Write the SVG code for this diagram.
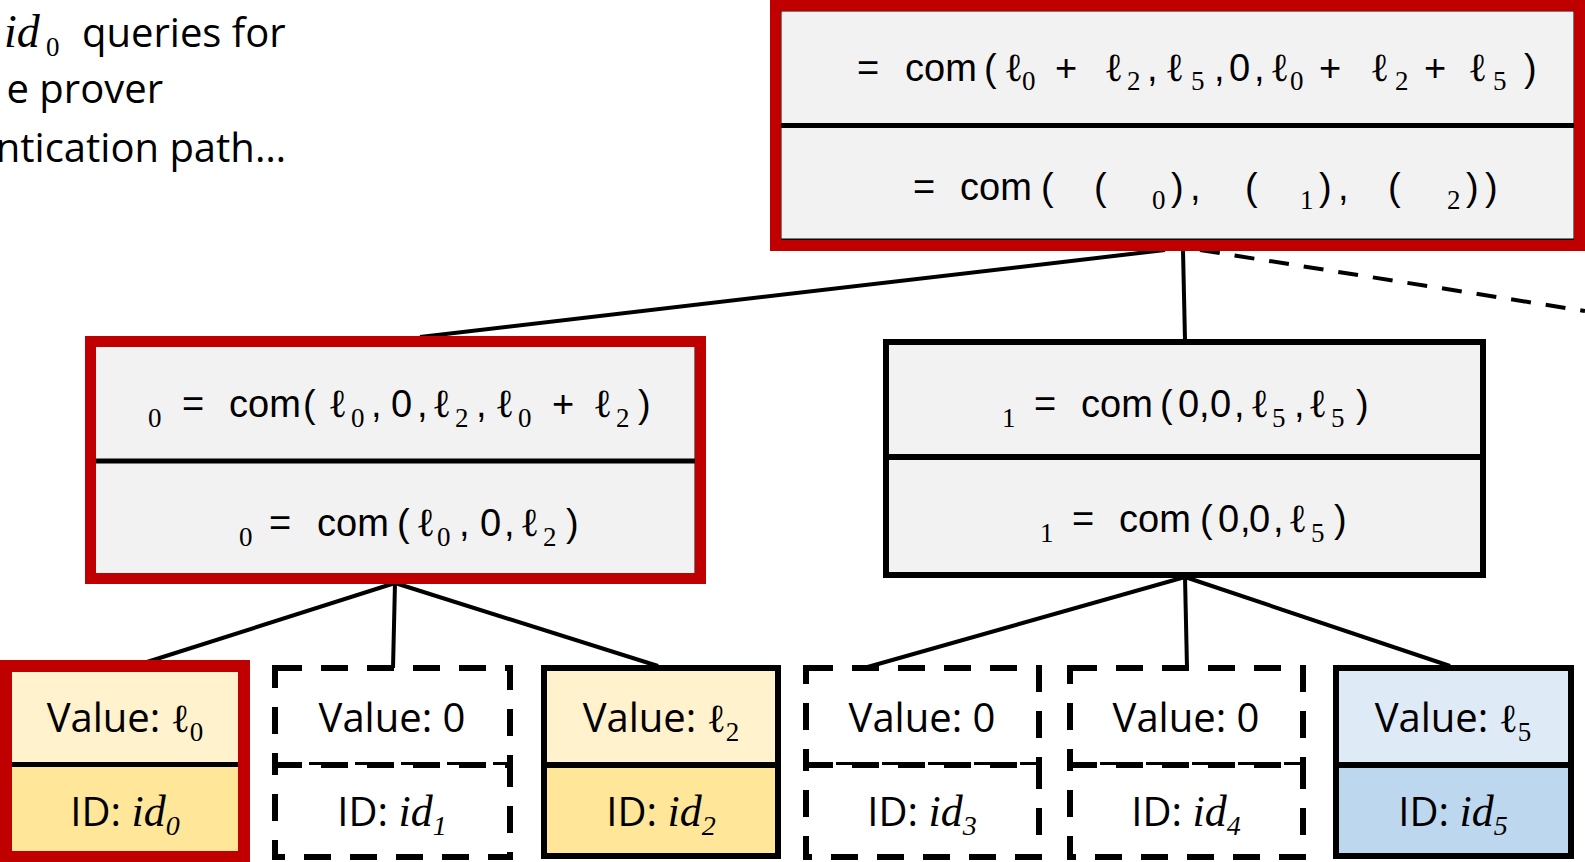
<svg xmlns="http://www.w3.org/2000/svg" width="1585" height="862" viewBox="0 0 1585 862">
<style>
.m{font-family:"Liberation Sans",Arial,sans-serif;font-size:38px;fill:#000}
.l{font-family:"DejaVu Serif",serif;font-size:40px}
.s{font-family:"Liberation Serif",serif;font-size:27px}
.os{font-family:"Open Sans","Noto Sans",sans-serif;font-size:40px;fill:#000}
.it{font-family:"Liberation Serif",serif;font-style:italic;font-size:44px}
.its{font-family:"Liberation Serif",serif;font-style:italic;font-size:28px}
.conn line{stroke:#000;stroke-width:4;fill:none}
.conn .dl{stroke-dasharray:20 15}
.gray{fill:#F2F2F2;stroke:#000;stroke-width:5}
.div{stroke:#000;stroke-width:5}
.red{fill:none;stroke:#C00000;stroke-width:11}
.leaf{fill:none;stroke:#000;stroke-width:6}
.dleaf{fill:#fff;stroke:#000;stroke-width:6;stroke-dasharray:27 19}
</style>

<g id="caption">
<text class="os" y="47"><tspan x="4" y="47" class="it" style="font-size:46px">id</tspan><tspan x="46" y="56" class="s">0</tspan><tspan x="82" y="47">queries for</tspan></text>
<text class="os" x="163" y="103" text-anchor="end">e prover</text>
<text class="os" x="286" y="162" text-anchor="end">ntication path…</text>
</g>

<g id="connectors" class="conn">
<line x1="1165" y1="250" x2="420" y2="337"/>
<line x1="1183" y1="250" x2="1185" y2="340"/>
<line class="dl" x1="1200" y1="250" x2="1585" y2="311"/>
<line x1="395" y1="583" x2="147" y2="662"/>
<line x1="395" y1="583" x2="393" y2="668"/>
<line x1="395" y1="583" x2="658" y2="666"/>
<line x1="1185" y1="577" x2="857" y2="670"/>
<line x1="1185" y1="577" x2="1187" y2="668"/>
<line x1="1185" y1="577" x2="1450" y2="666"/>
</g>

<g id="root">
<rect x="779" y="9" width="797" height="232" class="gray"/>
<line x1="779" y1="125.5" x2="1576" y2="125.5" class="div"/>
<rect x="775.5" y="5.5" width="804" height="240" class="red"/>
<text class="m"><tspan x="857" y="81">=</tspan><tspan x="905" y="81">com</tspan><tspan x="984" y="81">(</tspan><tspan x="1004" y="81" class="l">ℓ</tspan><tspan x="1022" y="90" class="s">0</tspan><tspan x="1055" y="81">+</tspan><tspan x="1104" y="81" class="l">ℓ</tspan><tspan x="1127" y="90" class="s">2</tspan><tspan x="1147" y="81">,</tspan><tspan x="1165" y="81" class="l">ℓ</tspan><tspan x="1191" y="90" class="s">5</tspan><tspan x="1214" y="81">,</tspan><tspan x="1229" y="81">0</tspan><tspan x="1254" y="81">,</tspan><tspan x="1270" y="81" class="l">ℓ</tspan><tspan x="1290" y="90" class="s">0</tspan><tspan x="1319" y="81">+</tspan><tspan x="1370" y="81" class="l">ℓ</tspan><tspan x="1395" y="90" class="s">2</tspan><tspan x="1424" y="81">+</tspan><tspan x="1468" y="81" class="l">ℓ</tspan><tspan x="1493" y="90" class="s">5</tspan><tspan x="1524" y="81">)</tspan></text>
<text class="m"><tspan x="913" y="200">=</tspan><tspan x="960" y="200">com</tspan><tspan x="1041" y="200">(</tspan><tspan x="1094" y="200">(</tspan><tspan x="1152" y="209" class="s">0</tspan><tspan x="1171" y="200">)</tspan><tspan x="1190" y="200">,</tspan><tspan x="1245" y="200">(</tspan><tspan x="1300" y="209" class="s">1</tspan><tspan x="1319" y="200">)</tspan><tspan x="1338" y="200">,</tspan><tspan x="1388" y="200">(</tspan><tspan x="1447" y="209" class="s">2</tspan><tspan x="1466" y="200">)</tspan><tspan x="1485" y="200">)</tspan></text>
</g>

<g id="node-left">
<rect x="93" y="344" width="604" height="232" class="gray"/>
<line x1="93" y1="461" x2="697" y2="461" class="div"/>
<rect x="90.5" y="341.5" width="610" height="237" class="red"/>
<text class="m"><tspan x="148" y="427" class="s">0</tspan><tspan x="182" y="417">=</tspan><tspan x="229" y="417">com</tspan><tspan x="303" y="417">(</tspan><tspan x="328" y="417" class="l">ℓ</tspan><tspan x="351" y="427" class="s">0</tspan><tspan x="371" y="417">,</tspan><tspan x="391" y="417">0</tspan><tspan x="417" y="417">,</tspan><tspan x="432" y="417" class="l">ℓ</tspan><tspan x="455" y="427" class="s">2</tspan><tspan x="476" y="417">,</tspan><tspan x="495" y="417" class="l">ℓ</tspan><tspan x="518" y="427" class="s">0</tspan><tspan x="552" y="417">+</tspan><tspan x="593" y="417" class="l">ℓ</tspan><tspan x="616" y="427" class="s">2</tspan><tspan x="638" y="417">)</tspan></text>
<text class="m"><tspan x="239" y="546" class="s">0</tspan><tspan x="269" y="536">=</tspan><tspan x="317" y="536">com</tspan><tspan x="397" y="536">(</tspan><tspan x="416" y="536" class="l">ℓ</tspan><tspan x="437" y="546" class="s">0</tspan><tspan x="459" y="536">,</tspan><tspan x="480" y="536">0</tspan><tspan x="504" y="536">,</tspan><tspan x="520" y="536" class="l">ℓ</tspan><tspan x="543" y="546" class="s">2</tspan><tspan x="566" y="536">)</tspan></text>
</g>

<g id="node-right">
<rect x="886" y="342" width="597" height="233" class="gray" style="stroke-width:6"/>
<line x1="886" y1="457" x2="1483" y2="457" class="div" style="stroke-width:6"/>
<text class="m"><tspan x="1002" y="427" class="s">1</tspan><tspan x="1034" y="417">=</tspan><tspan x="1081" y="417">com</tspan><tspan x="1160" y="417">(</tspan><tspan x="1178" y="417">0</tspan><tspan x="1199" y="417">,</tspan><tspan x="1210" y="417">0</tspan><tspan x="1234" y="417">,</tspan><tspan x="1250" y="417" class="l">ℓ</tspan><tspan x="1272" y="427" class="s">5</tspan><tspan x="1294" y="417">,</tspan><tspan x="1308" y="417" class="l">ℓ</tspan><tspan x="1331" y="427" class="s">5</tspan><tspan x="1356" y="417">)</tspan></text>
<text class="m"><tspan x="1040" y="542" class="s">1</tspan><tspan x="1072" y="532">=</tspan><tspan x="1119" y="532">com</tspan><tspan x="1200" y="532">(</tspan><tspan x="1218" y="532">0</tspan><tspan x="1240" y="532">,</tspan><tspan x="1249" y="532">0</tspan><tspan x="1273" y="532">,</tspan><tspan x="1288" y="532" class="l">ℓ</tspan><tspan x="1311" y="542" class="s">5</tspan><tspan x="1334" y="532">)</tspan></text>
</g>

<g id="leaf0">
<rect x="12" y="672" width="226" height="93" fill="#FFF2CC"/>
<rect x="12" y="765" width="226" height="87" fill="#FFE699"/>
<line x1="12" y1="764.5" x2="238" y2="764.5" class="div"/>
<rect x="6" y="666" width="238" height="191" class="red" style="stroke-width:12"/>
<text class="os" x="125" y="732" text-anchor="middle">Value: <tspan class="l">ℓ</tspan><tspan class="s" dy="9">0</tspan></text>
<text class="os" x="125" y="826" text-anchor="middle">ID: <tspan class="it">id</tspan><tspan class="its" dy="9">0</tspan></text>
</g>

<g id="leaf1">
<rect x="275" y="668" width="235" height="97" class="dleaf"/>
<rect x="275" y="765" width="235" height="92" class="dleaf"/>
<text class="os" x="392" y="732" text-anchor="middle">Value: 0</text>
<text class="os" x="392" y="826" text-anchor="middle">ID: <tspan class="it">id</tspan><tspan class="its" dy="9">1</tspan></text>
</g>

<g id="leaf2">
<rect x="544" y="668" width="234" height="97" fill="#FFF2CC"/>
<rect x="544" y="765" width="234" height="91" fill="#FFE699"/>
<line x1="544" y1="765" x2="778" y2="765" class="div" style="stroke-width:6"/>
<rect x="544" y="668" width="234" height="188" class="leaf"/>
<text class="os" x="661" y="732" text-anchor="middle">Value: <tspan class="l">ℓ</tspan><tspan class="s" dy="9">2</tspan></text>
<text class="os" x="661" y="826" text-anchor="middle">ID: <tspan class="it">id</tspan><tspan class="its" dy="9">2</tspan></text>
</g>

<g id="leaf3">
<rect x="806" y="668" width="233" height="97" class="dleaf"/>
<rect x="806" y="765" width="233" height="92" class="dleaf"/>
<text class="os" x="922" y="732" text-anchor="middle">Value: 0</text>
<text class="os" x="922" y="826" text-anchor="middle">ID: <tspan class="it">id</tspan><tspan class="its" dy="9">3</tspan></text>
</g>

<g id="leaf4">
<rect x="1070" y="668" width="233" height="97" class="dleaf"/>
<rect x="1070" y="765" width="233" height="92" class="dleaf"/>
<text class="os" x="1186" y="732" text-anchor="middle">Value: 0</text>
<text class="os" x="1186" y="826" text-anchor="middle">ID: <tspan class="it">id</tspan><tspan class="its" dy="9">4</tspan></text>
</g>

<g id="leaf5">
<rect x="1336" y="668" width="235" height="97" fill="#DEEBF7"/>
<rect x="1336" y="765" width="235" height="91" fill="#BDD7EE"/>
<line x1="1336" y1="765" x2="1571" y2="765" class="div" style="stroke-width:6"/>
<rect x="1336" y="668" width="235" height="188" class="leaf"/>
<text class="os" x="1453" y="732" text-anchor="middle">Value: <tspan class="l">ℓ</tspan><tspan class="s" dy="9">5</tspan></text>
<text class="os" x="1453" y="826" text-anchor="middle">ID: <tspan class="it">id</tspan><tspan class="its" dy="9">5</tspan></text>
</g>
</svg>
